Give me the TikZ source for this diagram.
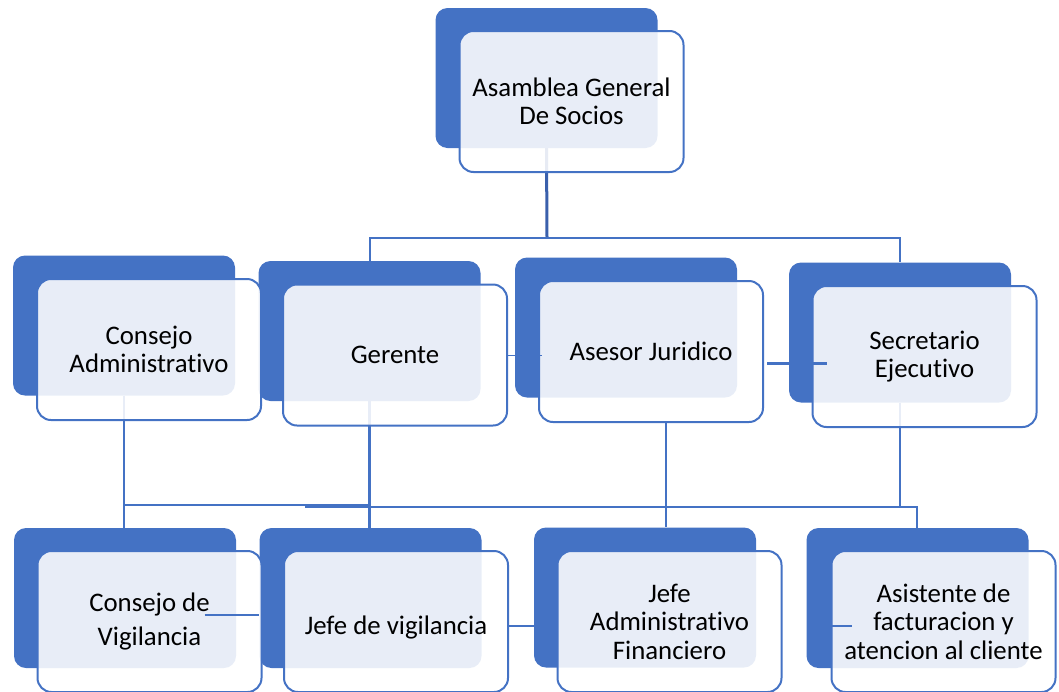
\documentclass[tikz,border=0pt]{standalone}
\usepackage{fontspec}
\setmainfont{Carlito}[Ligatures={NoCommon,NoContextual},Contextuals=NoAlternate]
\definecolor{orgblue}{HTML}{4472C4}
\definecolor{orgdark}{HTML}{3A60AC}
\tikzset{
  backbox/.style={fill=orgblue, rounded corners=12pt, minimum width=222pt, minimum height=140pt, inner sep=0pt},
  frontbox/.style={draw=orgblue, line width=2pt, fill=white, fill opacity=0.88, text opacity=1,
    rounded corners=14pt, minimum width=224pt, minimum height=141pt, inner sep=0pt,
    align=center, font=\fontsize{26.8}{28.5}\selectfont},
  conn/.style={draw=orgblue, line width=1.5pt},
}
\begin{document}
\begin{tikzpicture}[x=1pt,y=-1pt]
      \useasboundingbox (0,0) rectangle (1059,691);

            % Back boxes
            \node[backbox] (asambleaB) at (546.5,78) {};
            \node[backbox] (consejoAB) at (124,325.5) {};
            \node[backbox] (gerenteB) at (369.5,331) {};
            \node[backbox] (asesorB) at (626,327.5) {};
            \node[backbox] (secretarioB) at (900,332.5) {};
            \node[backbox] (cvigB) at (125,598) {};
            \node[backbox] (jvigB) at (370.5,598) {};
            \node[backbox] (jafB) at (645,597.5) {};
            \node[backbox] (asistB) at (917.5,598) {};

            % Junctions
            \coordinate (jTop) at (547,238);
            \coordinate (jL) at (124,505);
            \coordinate (jM) at (370,505);
            \coordinate (jR1) at (305,507);
            \coordinate (jR2) at (917,507);
            \coordinate (asesorDown) at (666,423);

            % Asamblea to second row
            \draw[conn, draw=orgdark, line width=3pt] (asambleaB.south) -- (jTop);
            \draw[conn, line width=2pt] (gerenteB.north) |- (jTop) -| (secretarioB.north);

            % Second row to third row
            \draw[conn, line width=1.2pt] (consejoAB.south) -- (jL) -- (jL |- cvigB.north);
            \draw[conn, line width=2pt] (jL) -- (jM);
            \draw[conn, line width=3pt] (gerenteB.south) -- (gerenteB.south |- jvigB.north);
            \draw[conn] (jR1) -- (jR2);
            \draw[conn, line width=1.2pt] (asesorDown) -- (asesorDown |- jafB.north);
            \draw[conn, line width=2pt] (secretarioB.south) |- (jR2) -- (jR2 |- asistB.north);

            % Second row links
            \draw[conn, line width=1pt] ([xshift=-8pt,yshift=-5.5pt]consejoAB.east) -- ++(8,0);

            % Front boxes
            \node[frontbox] (asambleaF) at (571.5,101.5) {Asamblea General\\De Socios};
            \node[frontbox] (consejoAF) at (149,349.5) {Consejo\\Administrativo};
            \node[frontbox] (gerenteF) at (395,355) {Gerente};
            \node[frontbox] (asesorF) at (651,351.5) {Asesor Juridico};
            \node[frontbox] (secretarioF) at (924.5,356.5) {Secretario\\Ejecutivo};
            \node[frontbox] (cvigF) at (149.5,621.5) {Consejo de\\[6pt]Vigilancia};
            \node[frontbox] (jvigF) at (396,621.5) {\raisebox{-13pt}[0pt][0pt]{Jefe de vigilancia}};
            \node[frontbox] (jafF) at (669.5,621.5) {Jefe\\Administrativo\\Financiero};
            \node[frontbox] (asistF) at (943.5,621.5) {Asistente de\\facturacion y\\atencion al cliente};

            % Links on top
            \draw[conn, line width=1pt] (gerenteF.east) -- ++(34,0);
            \draw[conn, line width=3pt] ([xshift=3pt,yshift=-11.5pt]asesorF.east) -- ++(60,0);
            \draw[conn, line width=2.5pt] ([xshift=-58pt,yshift=6.5pt]cvigF.east) -- ++(54,0);
            \draw[conn] ([yshift=-4.5pt]jvigF.east) -- ++(26,0);
            \draw[conn] ([xshift=1pt,yshift=-4.5pt]asistF.west) -- ++(20,0);

          \end{tikzpicture}
\end{document}
